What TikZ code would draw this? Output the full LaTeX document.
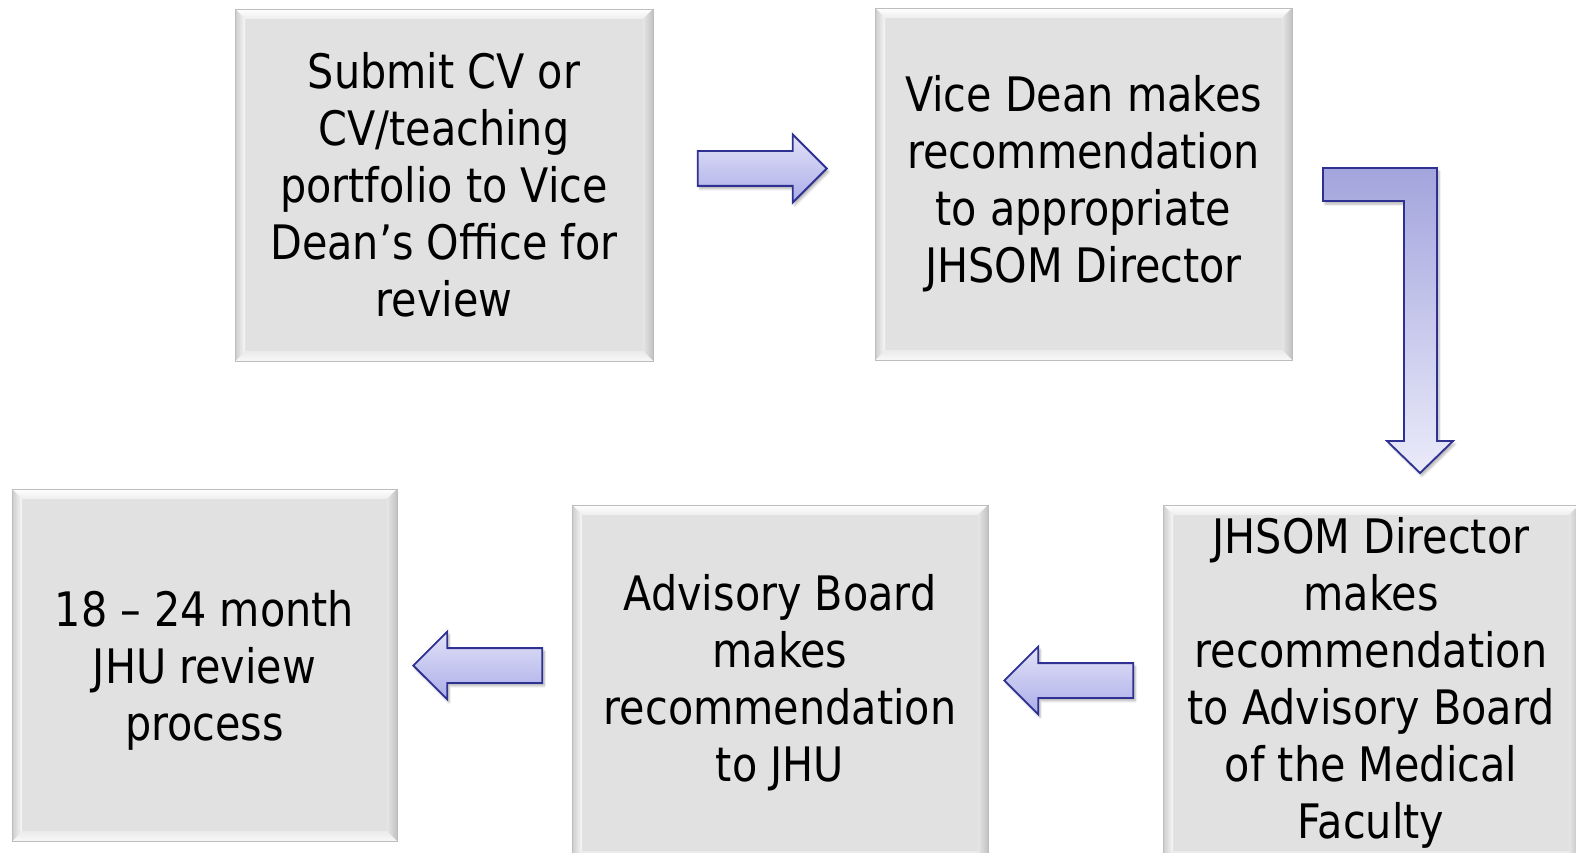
\documentclass[tikz,border=0pt]{standalone}
\usepackage{xcolor}
\usepackage{fontspec}
\setmainfont[FakeStretch=0.87]{DejaVu Sans}
\usepackage{tikz}
\usetikzlibrary{calc,shapes.arrows,shadows.blur}

\definecolor{boxface}{HTML}{E1E1E1}
\definecolor{boxedge}{HTML}{BDBDBD}
\definecolor{arrowline}{RGB}{46,49,146}
\definecolor{arrowlight}{HTML}{E2E2F8}
\definecolor{arrowdark}{HTML}{ABADE8}

\tikzset{
  bevel/.style={fill=boxface, draw=boxedge, line width=0.8pt,
    path picture={
      \path (path picture bounding box.north west) coordinate (p1)
            (path picture bounding box.north east) coordinate (p2)
            (path picture bounding box.south east) coordinate (p3)
            (path picture bounding box.south west) coordinate (p4);
      \path ($(p1)+(10pt,-10pt)$) coordinate (q1)
            ($(p2)+(-10pt,-10pt)$) coordinate (q2)
            ($(p3)+(-10pt,10pt)$) coordinate (q3)
            ($(p4)+(10pt,10pt)$) coordinate (q4);
      \shade[top color=white, bottom color=black!7] (p1) -- (p2) -- (q2) -- (q1) -- cycle;
      \shade[left color=black!10, right color=black!24] (p2) -- (p3) -- (q3) -- (q2) -- cycle;
      \shade[top color=black!8, bottom color=black!3] (p3) -- (p4) -- (q4) -- (q3) -- cycle;
      \shade[left color=black!20, right color=black!3] (p4) -- (p1) -- (q1) -- (q4) -- cycle;
    }}
}

\begin{document}
\begin{tikzpicture}[x=1pt,y=-1pt,
    stepbox/.style={bevel, minimum width=416pt, minimum height=352pt,
      inner sep=0pt, align=center, font=\fontsize{47.5}{57}\selectfont},
    flow/.style={single arrow, draw=arrowline, line width=1.8pt, anchor=tip,
      top color=arrowlight, bottom color=arrowdark, inner xsep=0pt, inner ysep=16.5pt,
      minimum height=129pt, single arrow head extend=16.5pt,
      blur shadow={shadow xshift=2pt, shadow yshift=-3pt, shadow opacity=30, shadow blur steps=6}},
    back/.style={flow, shape border rotate=180}
  ]
  \useasboundingbox (0,0) rectangle (1576,853);
  \clip (0,0) rectangle (1576,853);

  % top row
  \node[stepbox, minimum width=418pt] (submit) at (444,185)
    {Submit CV or\\CV/teaching\\portfolio to Vice\\Dean’s Office for\\review};
  \node[stepbox, minimum width=417pt] (vicedean) at (1083.5,184)
    {Vice Dean makes\\recommendation\\to appropriate\\JHSOM Director};

  % bottom row
  \node[stepbox, minimum height=356pt] (director) at (1371,683)
    {JHSOM Director\\makes\\recommendation\\to Advisory Board\\of the Medical\\Faculty};
  \node[stepbox, minimum height=356pt] (board) at (780,683)
    {Advisory Board\\makes\\recommendation\\to JHU};
  \node[stepbox, minimum width=385pt] (jhu) at (204.5,665)
    {18 – 24 month\\JHU review\\\raisebox{0pt}[\height][0pt]{process}};

  % arrows between the steps, placed by their tips
  \node[flow] (a1) at (828,168.5) {};
  \node[back] (a3) at (1003,680.5) {};
  \node[back] (a4) at (412,665.5) {};

  % bent arrow down to the director
  \draw[arrowline, line width=1.8pt, top color=arrowdark!95!black, bottom color=arrowlight!70!white,
      blur shadow={shadow xshift=2pt, shadow yshift=-3pt, shadow opacity=30, shadow blur steps=6}]
    (1323,168) -- (1437,168) -- (1437,441) -- (1453,441) -- (1420,473)
    -- (1387,441) -- (1404,441) -- (1404,201) -- (1323,201) -- cycle;
\end{tikzpicture}
\end{document}
